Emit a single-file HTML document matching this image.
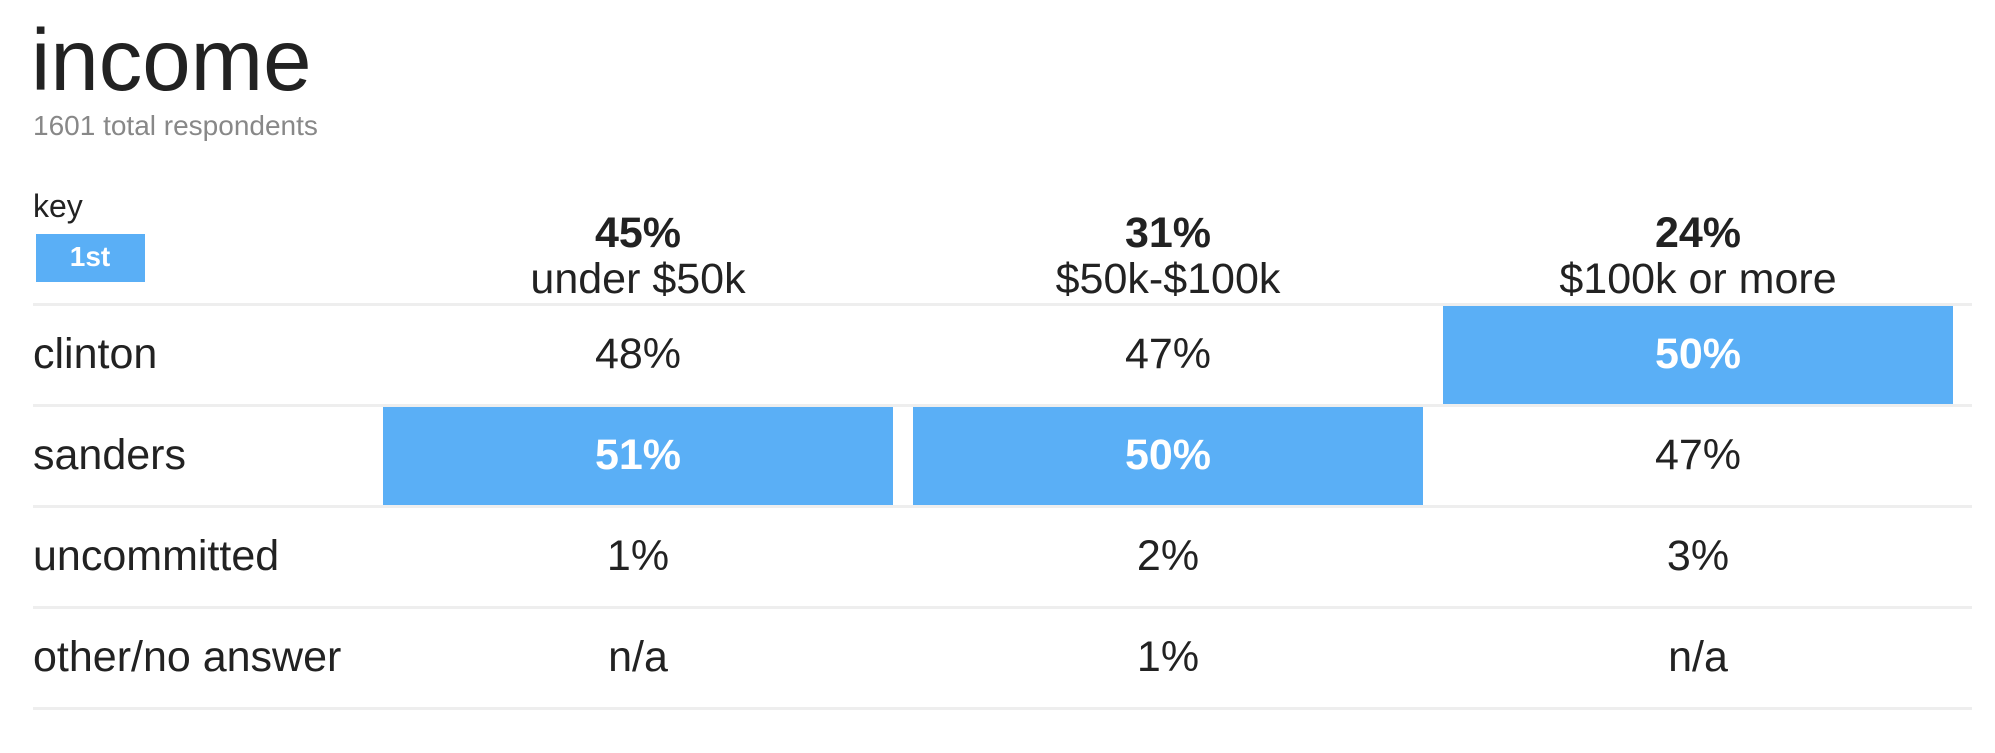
<!DOCTYPE html>
<html><head><meta charset="utf-8"><style>
html,body{margin:0;padding:0;background:#fff;}
body{width:1995px;height:753px;position:relative;overflow:hidden;font-family:"Liberation Sans",Arial,sans-serif;color:#222;}
.t{position:absolute;white-space:nowrap;line-height:1;}
.c{transform:translateX(-50%);}
.line{position:absolute;left:33px;width:1939px;height:3px;background:#eeeeee;}
.bar{position:absolute;background:#5aaff6;}
</style></head><body>
<div class="t" style="left:31px;top:17px;font-size:87px;">income</div>
<div class="t" style="left:33px;top:112px;font-size:28px;color:#888;">1601 total respondents</div>
<div class="t" style="left:33px;top:190px;font-size:32px;">key</div>
<div style="position:absolute;left:36px;top:234px;width:109px;height:48px;background:#5aaff6;"></div>
<div class="t c" style="left:90px;top:243px;font-size:28px;font-weight:bold;color:#fff;">1st</div>
<div id="root"></div>
<script>
const groups = ["under $50k", "$50k-$100k", "$100k or more"];
const groupShares = ["45%", "31%", "24%"];
const candidates = ["clinton", "sanders", "uncommitted", "other/no answer"];
const clintonVals = [48, 47, 50];
const sandersVals = [51, 50, 47];
const uncommittedVals = [1, 2, 3];
const otherVals = [null, 1, null];

const series = [clintonVals, sandersVals, uncommittedVals, otherVals];
const root = document.getElementById('root');
const colLeft = 383, colW = 510, colGap = 20;
const colX = i => colLeft + i * (colW + colGap);
const rowTop = i => 303 + i * 101;

function mk(cls, name, style, text) {
  const d = document.createElement('div');
  d.className = cls;
  
  
  d.style.cssText = style;
  if (text !== undefined) d.textContent = text;
  root.appendChild(d);
  return d;
}
groups.forEach((g, i) => {
  const cx = colX(i) + colW / 2;
  mk('t c', 'group-share', `left:${cx}px;top:212px;font-size:43px;font-weight:bold;`, groupShares[i]);
  mk('t c', 'group-label', `left:${cx}px;top:258px;font-size:43px;`, g);
});
for (let r = 0; r <= candidates.length; r++) {
  mk('line', 'row-divider', `top:${rowTop(r)}px;`);
}
candidates.forEach((c, r) => {
  const top = rowTop(r);
  mk('t', 'row-label', `left:33px;top:${top + 30}px;font-size:43px;`, c);
  const vals = series[r];
  groups.forEach((g, i) => {
    const v = vals[i];
    let max = -1;
    series.forEach(s => { if (s[i] !== null && s[i] > max) max = s[i]; });
    const win = v !== null && v === max;
    if (win) mk('bar', 'winner-cell', `left:${colX(i)}px;top:${top + 3}px;width:${colW}px;height:98px;`);
    const cx = colX(i) + colW / 2;
    mk('t c', 'cell-value', `left:${cx}px;top:${top + 30}px;font-size:43px;${win ? 'color:#fff;font-weight:bold;' : ''}`, v === null ? 'n/a' : v + '%');
  });
});
</script>
</body></html>
